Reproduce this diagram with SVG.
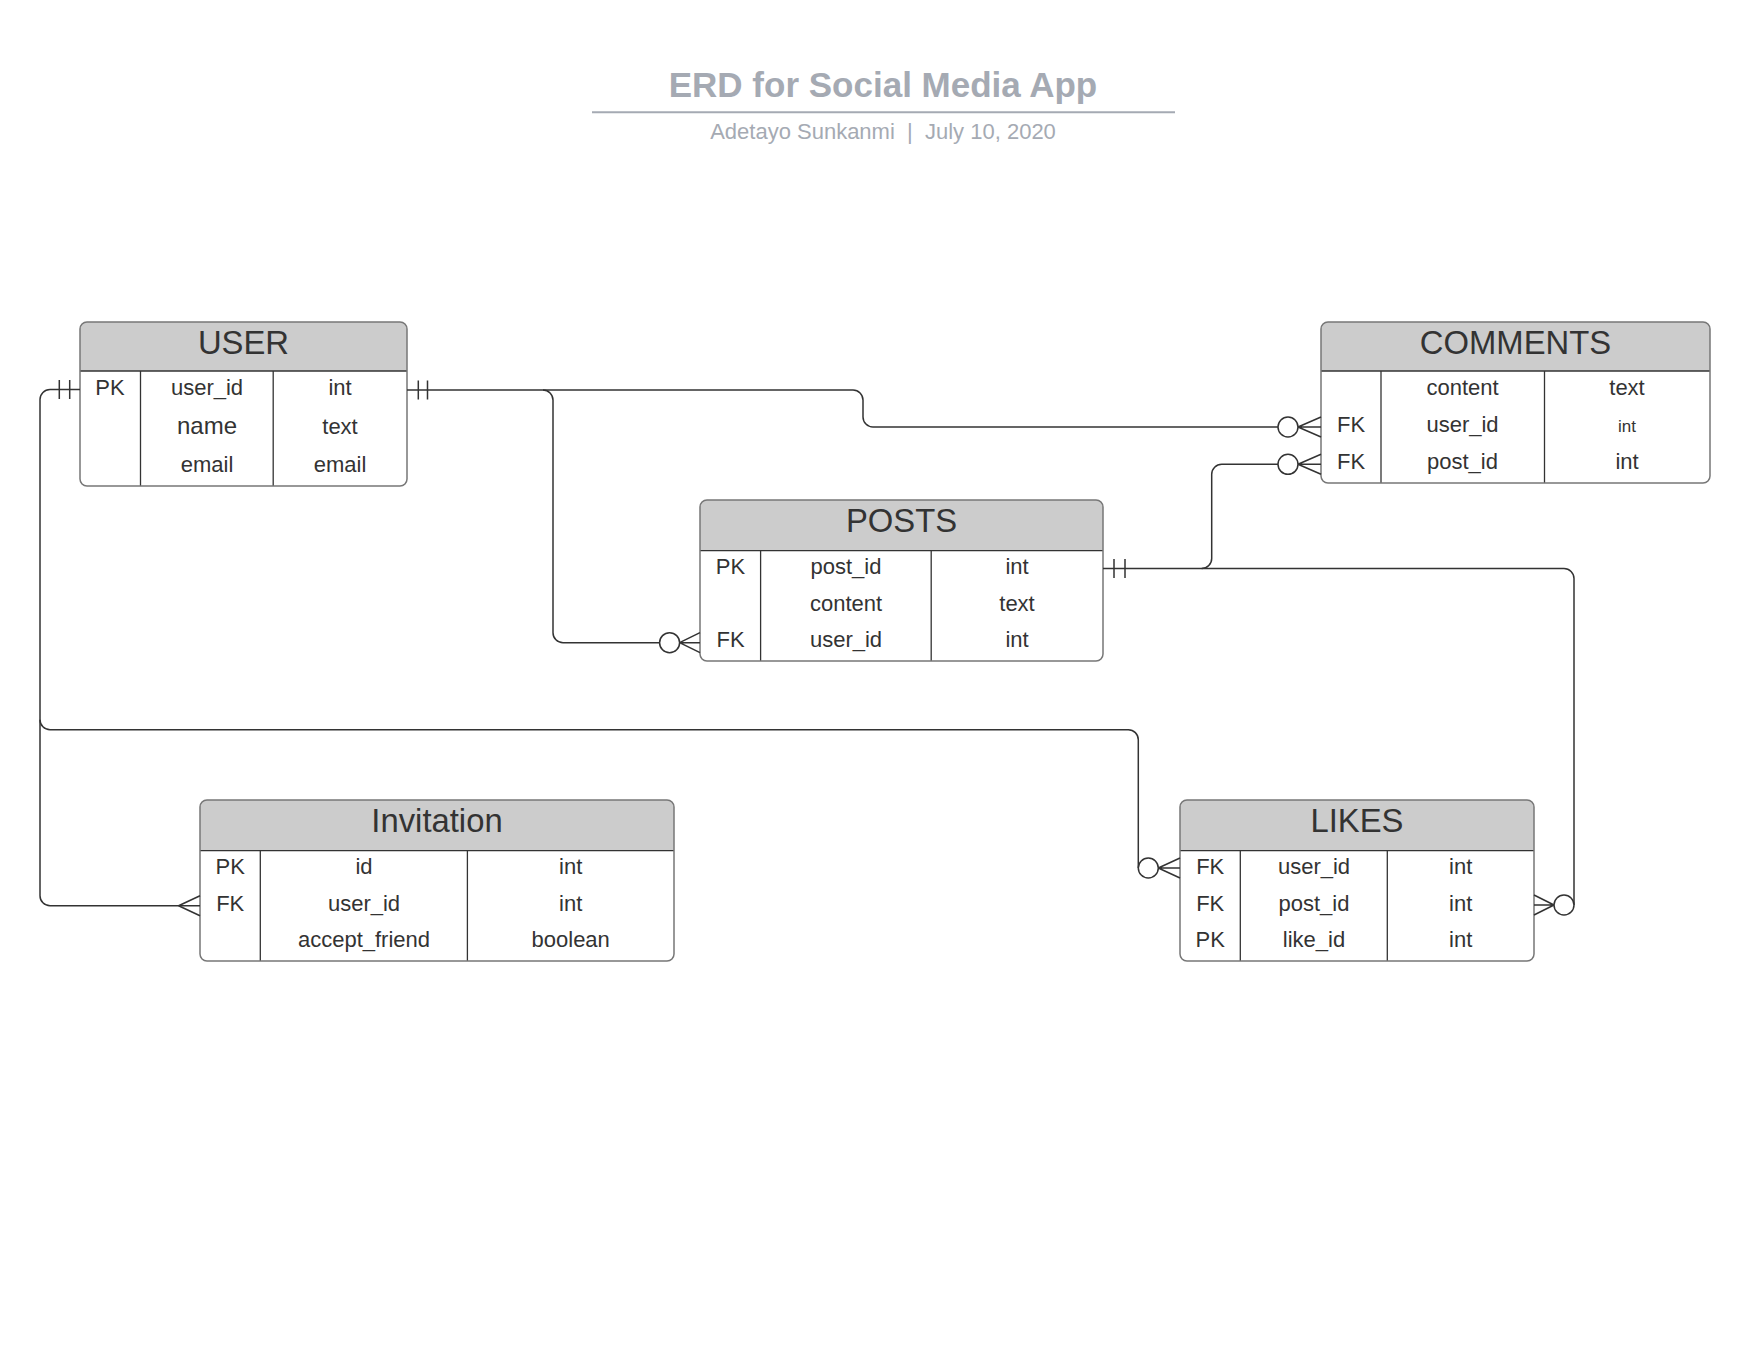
<svg xmlns="http://www.w3.org/2000/svg" width="1758" height="1358" viewBox="0 0 1758 1358">
<defs>
<style>
.bg{fill:#ffffff}
.title{font-family:"Liberation Sans",Arial,sans-serif;font-weight:bold;font-size:35px;fill:#a5aab3;text-anchor:middle}
.sub{font-family:"Liberation Sans",Arial,sans-serif;font-size:22px;fill:#a5aab3;text-anchor:middle}
.box{fill:#ffffff;stroke:none}
.border{fill:none;stroke:#777777;stroke-width:1.5}
.head{fill:#cccccc;stroke:none}
.div{stroke:#333333;stroke-width:1.3;fill:none}
.h{font-family:"Liberation Sans",Arial,sans-serif;font-size:32.8px;fill:#333333;text-anchor:middle}
.t{font-family:"Liberation Sans",Arial,sans-serif;font-size:22px;fill:#333333;text-anchor:middle}
.conn{fill:none;stroke:#333333;stroke-width:1.5}
.circ{fill:#ffffff;stroke:#333333;stroke-width:1.5}
</style>
</defs>
<rect class="bg" x="0" y="0" width="1758" height="1358"/>

<g id="title">
<text class="title" x="883" y="97">ERD for Social Media App</text>
<line x1="592" y1="112.3" x2="1175" y2="112.3" stroke="#a5aab3" stroke-width="2"/>
<text class="sub" x="883" y="139" xml:space="preserve">Adetayo Sunkanmi  |  July 10, 2020</text>
</g>

<g id="user">
<rect class="box" x="80" y="322" width="327" height="164" rx="7"/>
<path class="head" d="M80,371 V329 A7,7 0 0 1 87,322 H400 A7,7 0 0 1 407,329 V371 Z"/>
<line class="div" x1="80" y1="371" x2="407" y2="371"/>
<line class="div" x1="140.5" y1="371" x2="140.5" y2="486"/>
<line class="div" x1="273.2" y1="371" x2="273.2" y2="486"/>
<rect class="border" x="80" y="322" width="327" height="164" rx="7"/>
<text class="h" x="243.5" y="354">USER</text>
<text class="t" x="110" y="395">PK</text>
<text class="t" x="207" y="395">user_id</text>
<text class="t" x="340" y="395">int</text>
<text class="t" x="207" y="433.5" style="font-size:24px">name</text>
<text class="t" x="340" y="433.5">text</text>
<text class="t" x="207" y="472">email</text>
<text class="t" x="340" y="472">email</text>
</g>

<g id="comments">
<rect class="box" x="1321" y="322" width="389" height="161" rx="7"/>
<path class="head" d="M1321,371 V329 A7,7 0 0 1 1328,322 H1703 A7,7 0 0 1 1710,329 V371 Z"/>
<line class="div" x1="1321" y1="371" x2="1710" y2="371"/>
<line class="div" x1="1381" y1="371" x2="1381" y2="483"/>
<line class="div" x1="1544.5" y1="371" x2="1544.5" y2="483"/>
<rect class="border" x="1321" y="322" width="389" height="161" rx="7"/>
<text class="h" x="1515.5" y="354">COMMENTS</text>
<text class="t" x="1462.5" y="394.5">content</text>
<text class="t" x="1627" y="394.5">text</text>
<text class="t" x="1351" y="431.7">FK</text>
<text class="t" x="1462.5" y="431.7">user_id</text>
<text class="t" x="1627" y="431.7" style="font-size:17px">int</text>
<text class="t" x="1351" y="469">FK</text>
<text class="t" x="1462.5" y="469">post_id</text>
<text class="t" x="1627" y="469">int</text>
</g>

<g id="posts">
<rect class="box" x="700" y="500" width="403" height="161" rx="7"/>
<path class="head" d="M700,550.7 V507 A7,7 0 0 1 707,500 H1096 A7,7 0 0 1 1103,507 V550.7 Z"/>
<line class="div" x1="700" y1="550.7" x2="1103" y2="550.7"/>
<line class="div" x1="760.6" y1="550.7" x2="760.6" y2="661"/>
<line class="div" x1="931.2" y1="550.7" x2="931.2" y2="661"/>
<rect class="border" x="700" y="500" width="403" height="161" rx="7"/>
<text class="h" x="901.5" y="532">POSTS</text>
<text class="t" x="730.5" y="573.7">PK</text>
<text class="t" x="846" y="573.7">post_id</text>
<text class="t" x="1017" y="573.7">int</text>
<text class="t" x="846" y="610.5">content</text>
<text class="t" x="1017" y="610.5">text</text>
<text class="t" x="730.5" y="647.2">FK</text>
<text class="t" x="846" y="647.2">user_id</text>
<text class="t" x="1017" y="647.2">int</text>
</g>

<g id="invitation">
<rect class="box" x="200" y="800" width="474" height="161" rx="7"/>
<path class="head" d="M200,850.7 V807 A7,7 0 0 1 207,800 H667 A7,7 0 0 1 674,807 V850.7 Z"/>
<line class="div" x1="200" y1="850.7" x2="674" y2="850.7"/>
<line class="div" x1="260.3" y1="850.7" x2="260.3" y2="961"/>
<line class="div" x1="467.4" y1="850.7" x2="467.4" y2="961"/>
<rect class="border" x="200" y="800" width="474" height="161" rx="7"/>
<text class="h" x="437" y="832">Invitation</text>
<text class="t" x="230.2" y="873.7">PK</text>
<text class="t" x="364" y="873.7">id</text>
<text class="t" x="570.7" y="873.7">int</text>
<text class="t" x="230.2" y="910.5">FK</text>
<text class="t" x="364" y="910.5">user_id</text>
<text class="t" x="570.7" y="910.5">int</text>
<text class="t" x="364" y="947.2">accept_friend</text>
<text class="t" x="570.7" y="947.2">boolean</text>
</g>

<g id="likes">
<rect class="box" x="1180" y="800" width="354" height="161" rx="7"/>
<path class="head" d="M1180,850.7 V807 A7,7 0 0 1 1187,800 H1527 A7,7 0 0 1 1534,807 V850.7 Z"/>
<line class="div" x1="1180" y1="850.7" x2="1534" y2="850.7"/>
<line class="div" x1="1240.3" y1="850.7" x2="1240.3" y2="961"/>
<line class="div" x1="1387.3" y1="850.7" x2="1387.3" y2="961"/>
<rect class="border" x="1180" y="800" width="354" height="161" rx="7"/>
<text class="h" x="1357" y="832">LIKES</text>
<text class="t" x="1210.2" y="873.7">FK</text>
<text class="t" x="1314" y="873.7">user_id</text>
<text class="t" x="1460.7" y="873.7">int</text>
<text class="t" x="1210.2" y="910.5">FK</text>
<text class="t" x="1314" y="910.5">post_id</text>
<text class="t" x="1460.7" y="910.5">int</text>
<text class="t" x="1210.2" y="947.2">PK</text>
<text class="t" x="1314" y="947.2">like_id</text>
<text class="t" x="1460.7" y="947.2">int</text>
</g>

<g id="connectors">
<!-- USER.user_id -> COMMENTS.user_id -->
<path class="conn" d="M407,390 H853 A10,10 0 0 1 863,400 V417 A10,10 0 0 0 873,427 H1278"/>
<path class="conn" d="M418.3,380.5 V399.5 M427.5,380.5 V399.5"/>
<circle class="circ" cx="1288" cy="427" r="10"/>
<path class="conn" d="M1298,427 L1321,417 M1298,427 L1321,427 M1298,427 L1321,437"/>
<!-- USER.user_id -> POSTS.user_id -->
<path class="conn" d="M543,390 A10,10 0 0 1 553,400 V632.7 A10,10 0 0 0 563,642.7 H659.6"/>
<circle class="circ" cx="669.6" cy="642.7" r="10"/>
<path class="conn" d="M679.6,642.7 L700,632.7 M679.6,642.7 L700,642.7 M679.6,642.7 L700,652.7"/>
<!-- POSTS.post_id -> COMMENTS.post_id -->
<path class="conn" d="M1103,568.5 H1201.7 A10,10 0 0 0 1211.7,558.5 V474.3 A10,10 0 0 1 1221.7,464.3 H1278"/>
<path class="conn" d="M1114,559 V578 M1125,559 V578"/>
<circle class="circ" cx="1288" cy="464.3" r="10"/>
<path class="conn" d="M1298,464.3 L1321,454.3 M1298,464.3 L1321,464.3 M1298,464.3 L1321,474.3"/>
<!-- POSTS.post_id -> LIKES.post_id -->
<path class="conn" d="M1201.7,568.5 H1564 A10,10 0 0 1 1574,578.5 V905"/>
<circle class="circ" cx="1564" cy="905" r="10"/>
<path class="conn" d="M1554,905 L1534,895 M1554,905 L1534,905 M1554,905 L1534,915"/>
<!-- USER.user_id -> LIKES.user_id -->
<path class="conn" d="M80,389.5 H50 A10,10 0 0 0 40,399.5 V719.7 A10,10 0 0 0 50,729.7 H1128.3 A10,10 0 0 1 1138.3,739.7 V868"/>
<path class="conn" d="M59.3,380 V399 M69.7,380 V399"/>
<circle class="circ" cx="1148.3" cy="868" r="10"/>
<path class="conn" d="M1158.3,868 L1180,858 M1158.3,868 L1180,868 M1158.3,868 L1180,878"/>
<!-- USER.user_id -> Invitation.user_id -->
<path class="conn" d="M40,719.7 V895.7 A10,10 0 0 0 50,905.7 H200"/>
<path class="conn" d="M178.6,905.7 L200,895.7 M178.6,905.7 L200,915.7"/>
</g>
</svg>
